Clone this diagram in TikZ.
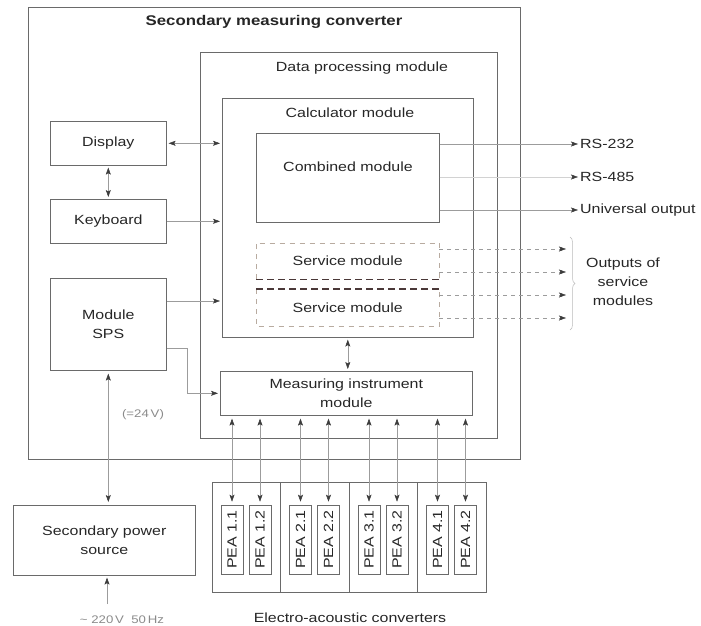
\documentclass[tikz,border=0pt]{standalone}
\usepackage{fontspec}
\setmainfont{Liberation Sans}[FakeStretch=1.2]
\usetikzlibrary{arrows.meta,calc,decorations.pathreplacing}
\definecolor{frame}{HTML}{6A6A6A}
\definecolor{wire}{HTML}{9C9C9C}
\definecolor{ink}{HTML}{262626}
\definecolor{soft}{HTML}{8A8A8A}
\definecolor{lightdash}{HTML}{B8ABA0}
\definecolor{darkdash}{HTML}{4A3838}
\begin{document}
\begin{tikzpicture}[x=1pt,y=-1pt,
  font=\fontsize{13.3}{19}\selectfont, text=ink,
  box/.style={draw=frame, line width=0.6pt, inner sep=0pt, anchor=north west, align=center},
  peabox/.style={draw=frame, line width=0.6pt, inner sep=0pt, minimum width=22pt, minimum height=69pt},
  lbl/.style={inner sep=1pt, align=center},
  wireline/.style={draw=wire, line width=0.5pt},
  arr/.style={-{Stealth[length=7pt,width=5pt,inset=1.5pt,color=ink!90]}},
  biarr/.style={{Stealth[length=7pt,width=5pt,inset=1.5pt,color=ink!90]}-{Stealth[length=7pt,width=5pt,inset=1.5pt,color=ink!90]}},
  svlight/.style={draw=lightdash, line width=0.6pt, dash pattern=on 5pt off 5pt},
  svdark/.style={draw=darkdash, line width=1.1pt, dash pattern=on 7pt off 4pt},
  outdash/.style={draw=wire, line width=0.5pt, dash pattern=on 4pt off 4pt}
]
\useasboundingbox (0,0) rectangle (701,626);

% nested housings
\node[box, minimum width=492pt, minimum height=452pt] (outer) at (28,7) {};
\node[box, minimum width=297pt, minimum height=386pt] (dpm) at (200,52) {};
\node[box, minimum width=251pt, minimum height=239pt] (calc) at (222,98) {};
\node[lbl, font=\bfseries\fontsize{14}{17}\selectfont] (outert) at (274,22) {Secondary measuring converter};
\node[lbl] (dpmt) at (362,68) {Data processing module};
\node[lbl] (calct) at (350,113) {Calculator module};

% modules inside the calculator
\node[box, minimum width=183pt, minimum height=89pt] (comb) at (256,133) {};
\node[lbl] (combt) at (348,167) {Combined module};
\node[inner sep=0pt, anchor=north west, minimum width=183pt, minimum height=36pt] (serv1) at (256,243) {Service module};
\node[inner sep=0pt, anchor=north west, minimum width=183pt, minimum height=37pt] (serv2) at (256,289) {Service module};
\draw[svlight] (serv1.south west) -- (serv1.north west) -- (serv1.north east) -- (serv1.south east);
\draw[svdark] (serv1.south west) -- (serv1.south east);
\draw[svlight] (serv2.north west) -- (serv2.south west) -- (serv2.south east) -- (serv2.north east);
\draw[svdark] (serv2.north west) -- (serv2.north east);

% left column
\node[box, minimum width=116pt, minimum height=44pt] (disp) at (50,121) {Display};
\node[box, minimum width=116pt, minimum height=44pt] (keyb) at (50,199) {Keyboard};
\node[box, minimum width=116pt, minimum height=92pt] (sps) at (50,278) {Module\\SPS};
\node[box, minimum width=252pt, minimum height=44pt] (mim) at (220,371) {Measuring instrument\\module};

% power supply
\node[box, minimum width=182pt, minimum height=70pt] (psrc) at (13,505) {Secondary power\\source};
\node[lbl, text=soft, font=\fontsize{11}{13}\selectfont] (dcv) at (143,415) {(=24\,V)};
\node[lbl, text=soft, font=\fontsize{11}{13}\selectfont] (acv) at (122,620) {\textasciitilde\ 220\,V\ \ 50\,Hz};
\coordinate (acin) at (107,604);

% electro-acoustic converters
\node[box, minimum width=274pt, minimum height=110pt] (eac) at (212,482) {};
\foreach \dx in {68,137,205}
  \draw[frame, line width=0.6pt] ($(eac.north west)+(\dx,0)$) -- ($(eac.south west)+(\dx,0)$);
\foreach \g/\cx in {1/246,2/314.5,3/383,4/451.5}{
  \node[peabox] (p\g1) at (\cx-14,539.5) {\rotatebox{90}{PEA \g.1}};
  \node[peabox] (p\g2) at (\cx+14,539.5) {\rotatebox{90}{PEA \g.2}};
}
\node[lbl] (eact) at (350,618) {Electro-acoustic converters};

% outputs
\node[anchor=west, inner sep=2pt] (rs232) at (578,144) {RS-232};
\node[anchor=west, inner sep=2pt] (rs485) at (578,177) {RS-485};
\node[anchor=west, inner sep=2pt] (uout) at (578,210) {Universal output};
\node[lbl] (outs) at (623,282) {Outputs of\\service\\modules};
\coordinate (o1) at (566,249);
\coordinate (o2) at (566,272);
\coordinate (o3) at (566,295);
\coordinate (o4) at (566,318);
\coordinate (bt) at (570,237);
\coordinate (bb) at (570,330);

% connectors
\draw[wireline, biarr, shorten <=2pt, shorten >=2pt] (disp.east) -- (disp.east -| calc.west);
\draw[wireline, biarr, shorten <=2pt, shorten >=2pt] (disp.south) -- (keyb.north);
\draw[wireline, arr, shorten >=2pt] (keyb.east) -- (keyb.east -| calc.west);
\coordinate (spsA) at ($(sps.north east)+(0,23)$);
\coordinate (spsB) at ($(sps.south east)+(0,-22)$);
\coordinate (spsK) at ($(spsB)+(21,0)$);
\draw[wireline, arr, shorten >=2pt] (spsA) -- (spsA -| calc.west);
\draw[wireline, arr, shorten >=2pt] (spsB) -- (spsK) |- (mim.west);
\draw[wireline, biarr, shorten <=2pt, shorten >=2pt] (calc.south) -- (calc.south |- mim.north);
\draw[wireline, biarr, shorten <=3pt, shorten >=3pt] (sps.south) -- (sps.south |- psrc.north);
\draw[wireline, arr, shorten >=2pt] (acin) -- (acin |- psrc.south);
\foreach \n in {p11,p12,p21,p22,p31,p32,p41,p42}
  \draw[wireline, biarr, shorten <=3pt, shorten >=3pt] (mim.south -| \n.north) -- (\n.north);

\draw[wireline, arr] (comb.east |- rs232) -- (rs232.west);
\draw[wireline, draw=wire!45, arr] (comb.east |- rs485) -- (rs485.west);
\draw[wireline, arr] (comb.east |- uout) -- (uout.west);
\draw[outdash, arr] (serv1.east |- o1) -- (o1);
\draw[outdash, arr] (serv1.east |- o2) -- (o2);
\draw[outdash, arr] (serv2.east |- o3) -- (o3);
\draw[outdash, arr] (serv2.east |- o4) -- (o4);
\draw[draw=wire!70, line width=0.5pt, decorate, decoration={brace, amplitude=5pt}] (bt) -- (bb);
\end{tikzpicture}
\end{document}
